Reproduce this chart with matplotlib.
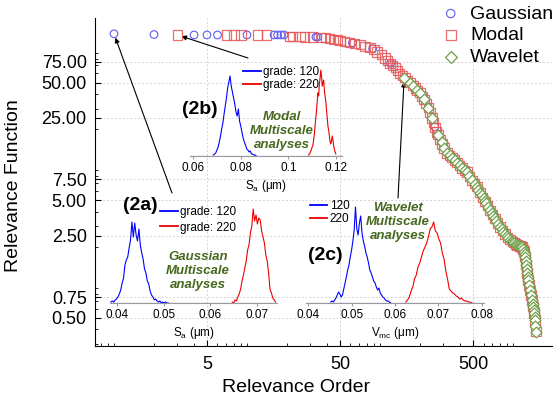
import numpy as np
import matplotlib
matplotlib.use('Agg')
import matplotlib.pyplot as plt
from matplotlib.ticker import LogLocator, NullFormatter, FormatStrFormatter

plt.rcParams['font.family'] = ['Liberation Sans', 'DejaVu Sans']
plt.rcParams['mathtext.fontset'] = 'custom'
plt.rcParams['mathtext.rm'] = 'Liberation Sans'
plt.rcParams['mathtext.it'] = 'Liberation Sans:italic'

# ---- main ranking (relevance order vs relevance function) ----
gauss_order = [1, 2, 4, 5, 6, 10, 16, 17, 18, 19, 33, 34, 62, 88, 120, 160, 210,
               258, 330, 420, 560, 700, 880, 1050, 1200, 1330, 1450]
gauss_value = [130, 128, 127, 127, 127, 127, 127, 127, 127, 127, 122, 122, 109, 97, 73,
               52, 38, 21, 12.2, 9.3, 5.8, 3.8, 2.6, 2.12, 1.88, 0.88, 0.51]

modal_order = [3, 7, 8, 9, 12, 14, 21, 22, 25, 27, 31, 36, 39, 42, 45, 48, 50, 54, 59,
               64, 71, 77, 84, 90, 95, 102, 109, 114, 119, 125, 130, 135, 141, 148, 154,
               161, 168, 177, 184, 190, 200, 207, 214, 222, 230, 238, 246, 252, 259, 266,
               273, 283, 293, 303, 319, 333, 348, 363, 379, 396, 414, 432, 451, 471, 492,
               514, 536, 565, 590, 616, 643, 671, 700, 732, 765, 798, 834, 871, 910, 949,
               985, 1018, 1045, 1072, 1100, 1129, 1150, 1169, 1190, 1211, 1222, 1231, 1242,
               1253, 1264, 1275, 1286, 1297, 1320, 1343, 1366, 1390, 1414, 1439, 1463, 1489]
modal_value = [127, 127, 127, 127, 127, 127, 123, 123, 123, 122, 122, 121, 120, 118, 117,
               116, 114, 112, 110, 108, 105, 102, 99, 95, 91, 86, 81, 77, 73, 70, 67, 63,
               60, 57, 55, 52, 50, 47, 45, 43, 41, 38, 36, 33, 30.5, 28, 25, 23, 20.6, 19,
               18, 16.3, 15, 13.9, 12.6, 12, 11.5, 11, 10.4, 9.9, 9.4, 9.0, 8.7, 8.0, 7.4,
               6.9, 6.5, 5.8, 5.3, 4.9, 4.5, 4.1, 3.8, 3.5, 3.2, 2.96, 2.75, 2.58, 2.42,
               2.30, 2.22, 2.17, 2.12, 2.08, 2.06, 2.04, 2.02, 2.0, 1.9, 1.82, 1.74, 1.65,
               1.53, 1.41, 1.3, 1.20, 1.12, 1.05, 0.95, 0.86, 0.78, 0.71, 0.62, 0.55, 0.48, 0.38]

wavelet_order = [152, 168, 177, 190, 200, 214, 230, 246, 273, 290, 305, 319, 335, 348,
                 365, 380, 398, 414, 432, 451, 470, 492, 514, 536, 550, 565, 580, 600, 616,
                 630, 650, 671, 690, 710, 732, 750, 770, 798, 820, 845, 871, 895, 920, 949,
                 980, 1000, 1018, 1045, 1072, 1100, 1129, 1150, 1169, 1190, 1211, 1222, 1231,
                 1242, 1253, 1264, 1275, 1286, 1297, 1320, 1343, 1366, 1390, 1402, 1414,
                 1427, 1439, 1451, 1463, 1476, 1489]
wavelet_value = [55, 50, 47, 43, 41, 36, 30.5, 25, 18, 15.5, 13.8, 12.6, 12, 11.5, 10.9,
                 10.4, 9.9, 9.4, 9.0, 8.7, 8.0, 7.4, 6.9, 6.5, 6.1, 5.8, 5.5, 5.2, 4.9, 4.7,
                 4.4, 4.1, 3.9, 3.7, 3.5, 3.35, 3.15, 2.96, 2.82, 2.7, 2.58, 2.48, 2.38, 2.30,
                 2.23, 2.2, 2.17, 2.12, 2.08, 2.06, 2.04, 2.02, 2.0, 1.92, 1.82, 1.74, 1.65,
                 1.53, 1.41, 1.3, 1.20, 1.12, 1.05, 0.95, 0.86, 0.78, 0.71, 0.66, 0.62, 0.58,
                 0.55, 0.51, 0.48, 0.43, 0.38]

y_ticks = [0.5, 0.75, 2.5, 5, 7.5, 25, 50, 75]
x_ticks = [5, 50, 500]

# ---- inset histograms (bin start, bin step, counts) ----
# (2a) Gaussian, Sa
a_blue_start, a_blue_step = 0.0387, 0.0003
a_blue = [1, 2, 1, 3, 4, 6, 9, 13, 20, 25, 38, 43, 46, 55, 63, 81, 66, 80, 68, 62, 74, 58,
          50, 44, 34, 30, 22, 19, 12, 8, 6, 3, 4, 2, 1, 2, 0, 1, 0, 1, 0, 0]
a_red_start, a_red_step = 0.0647, 0.0003
a_red = [1, 0, 3, 2, 6, 9, 14, 22, 28, 35, 42, 53, 58, 70, 77, 94, 82, 88, 79, 85, 83, 72,
         66, 60, 48, 42, 30, 14, 10, 5, 3, 1]
# (2b) Modal, Sa
b_blue_start, b_blue_step = 0.0685, 0.0005
b_blue = [1, 2, 3, 6, 9, 14, 20, 27, 33, 42, 50, 58, 68, 74, 80, 70, 64, 58, 52, 44, 40, 47,
          35, 30, 24, 18, 14, 11, 7, 6, 4, 5, 2, 2, 1, 1, 0]
b_red_start, b_red_step = 0.1085, 0.0003
b_red = [1, 2, 3, 5, 7, 9, 11, 16, 22, 30, 38, 45, 55, 63, 60, 72, 78, 86, 80, 70, 73, 76,
         66, 60, 55, 46, 38, 30, 26, 20, 14, 12, 15, 20, 16, 10, 7, 4, 2]
# (2c) Wavelet, Vmc
c_blue_start, c_blue_step = 0.0452, 0.0003
c_blue = [1, 2, 1, 3, 5, 8, 11, 9, 6, 8, 14, 20, 26, 33, 38, 46, 53, 62, 73, 96, 74, 68, 80,
          87, 70, 62, 57, 50, 46, 40, 33, 30, 26, 22, 20, 16, 13, 15, 10, 8, 6, 5, 3, 2, 2, 1, 0]
c_red_start, c_red_step = 0.0625, 0.0004
c_red = [1, 3, 6, 12, 16, 24, 28, 36, 40, 46, 52, 56, 60, 66, 74, 76, 81, 72, 70, 64, 60, 50,
         44, 32, 24, 14, 12, 10, 9, 7, 6, 4, 5, 3, 2, 2, 1, 1, 0]

W, H = 560, 403
fig = plt.figure(figsize=(W / 100, H / 100), dpi=100)


def box(l, t, r, b):
    # pixel box (left, top, right, bottom) -> figure fraction rect
    return [l / W, (H - b) / H, (r - l) / W, (b - t) / H]


ax = fig.add_axes(box(95, 18, 552, 346))
ax.set_xscale('log')
ax.set_yscale('log')
ax.set_xlim(0.72, 1964)
ax.set_ylim(0.288, 177)

g = ax.scatter(gauss_order, gauss_value, s=30, marker='o', facecolors='none',
               edgecolors='#5c5cf2', linewidths=0.8, zorder=3)
m = ax.scatter(modal_order, modal_value, s=44, marker='s', facecolors='none',
               edgecolors='#e85555', alpha=0.85, linewidths=0.9, zorder=4)
w = ax.scatter(wavelet_order, wavelet_value, s=30, marker='D', facecolors='white',
               edgecolors='#72a04c', linewidths=0.9, zorder=5)

ax.set_yticks(y_ticks)
ax.set_yticklabels(['%.2f' % v for v in y_ticks])
ax.yaxis.set_minor_locator(LogLocator(base=10, subs=np.arange(2, 10)))
ax.yaxis.set_minor_formatter(NullFormatter())
ax.set_xticks(x_ticks)
ax.set_xticklabels([str(v) for v in x_ticks])
ax.xaxis.set_minor_locator(LogLocator(base=10, subs=np.arange(1, 10)))
ax.xaxis.set_minor_formatter(NullFormatter())
ax.tick_params(which='major', direction='in', length=4, labelsize=13)
ax.tick_params(axis='x', which='major', pad=7)
ax.tick_params(axis='y', which='major', pad=6)
ax.tick_params(which='minor', direction='in', length=2)
ax.grid(True, which='major', color='#d4d4d4', linestyle=(0, (2, 2)), lw=0.7)
ax.set_axisbelow(True)
for s in ['top', 'right']:
    ax.spines[s].set_visible(False)

ax.set_xlabel('Relevance Order', fontsize=14)
ax.xaxis.set_label_coords(0.44, -0.10)
ax.set_ylabel('Relevance Function', fontsize=14)
ax.yaxis.set_label_coords(-0.16, 0.49)

ax.legend([g, m, w], ['Gaussian', 'Modal', 'Wavelet'], loc='upper left',
          bbox_to_anchor=(441 / W, 1 - 5 / H), bbox_transform=fig.transFigure,
          frameon=False, fontsize=14, handlelength=1.0, handletextpad=0.5,
          labelspacing=0.2, borderpad=0, borderaxespad=0, markerscale=1.1)

arrow = dict(arrowstyle='-|>', color='black', lw=0.8, mutation_scale=7,
             shrinkA=0, shrinkB=3)
ax.annotate('', xy=(gauss_order[0], gauss_value[0]), xytext=(172, H - 193),
            textcoords='figure pixels', arrowprops=arrow)
ax.annotate('', xy=(modal_order[0], modal_value[0]), xytext=(248, H - 58),
            textcoords='figure pixels', arrowprops=arrow)
ax.annotate('', xy=(wavelet_order[0], wavelet_value[0]), xytext=(398, H - 198),
            textcoords='figure pixels', arrowprops=arrow)


def inset(rect, xlim, ticks, blue, red, xlabel, labels, leg_at, leg_space):
    ia = fig.add_axes(rect)
    ia.patch.set_alpha(0)
    for s in ['top', 'right', 'left']:
        ia.spines[s].set_visible(False)
    ia.spines['bottom'].set_color('#9a9a9a')
    ia.spines['bottom'].set_linewidth(0.8)
    start, step, counts = blue
    xb = start + step * np.arange(len(counts))
    lb, = ia.plot(xb, counts, color='#0000ff', lw=0.8)
    start, step, counts = red
    xr = start + step * np.arange(len(counts))
    lr, = ia.plot(xr, counts, color='#ee0000', lw=0.8)
    ia.axhline(0, color='#3030ff', lw=0.8, zorder=1)
    ia.axhline(0, color='#c03030', lw=0.7, zorder=1, alpha=0.8)
    ia.set_xlim(*xlim)
    ia.set_ylim(0, 100)
    ia.set_yticks([])
    ia.set_xticks(ticks)
    ia.xaxis.set_major_formatter(FormatStrFormatter('%g'))
    ia.tick_params(axis='x', direction='out', length=2, color='#9a9a9a',
                   labelsize=8.5, pad=2)
    ia.set_xlabel(xlabel, fontsize=8.5, labelpad=3)
    leg = ia.legend([lb, lr], labels, loc='upper left', bbox_to_anchor=leg_at,
                    frameon=False, fontsize=8.5, handlelength=1.5, handletextpad=0.2,
                    labelspacing=leg_space, borderpad=0, borderaxespad=0)
    for ln in leg.get_lines():
        ln.set_linewidth(1.3)
    return ia


inset(box(110, 203, 277, 303), (0.0385, 0.0743), [0.04, 0.05, 0.06, 0.07],
      (a_blue_start, a_blue_step, a_blue), (a_red_start, a_red_step, a_red),
      'S$_{\\rm a}$ (μm)', ['grade: 120', 'grade: 220'], (0.30, 0.97), 0.3)
inset(box(190, 56, 342, 156), (0.0587, 0.1225), [0.06, 0.08, 0.1, 0.12],
      (b_blue_start, b_blue_step, b_blue), (b_red_start, b_red_step, b_red),
      'S$_{\\rm a}$ (μm)', ['grade: 120', 'grade: 220'], (0.35, 0.90), 0.1)
inset(box(306, 203, 484, 303), (0.0395, 0.0805), [0.04, 0.05, 0.06, 0.07, 0.08],
      (c_blue_start, c_blue_step, c_blue), (c_red_start, c_red_step, c_red),
      'V$_{\\rm mc}$ (μm)', ['120', '220'], (0.02, 1.03), 0.1)

green = '#46691f'
for txt, px, py in [('(2a)', 140, 205), ('(2b)', 200, 110), ('(2c)', 325, 256)]:
    fig.text(px / W, 1 - py / H, txt, ha='center', va='center', fontsize=14,
             fontweight='bold')
for txt, px, py in [('Gaussian\nMultiscale\nanalyses', 198, 271),
                    ('Modal\nMultiscale\nanalyses', 282, 131),
                    ('Wavelet\nMultiscale\nanalyses', 398, 222)]:
    fig.text(px / W, 1 - py / H, txt, ha='center', va='center', fontsize=9.5,
             fontweight='bold', style='italic', color=green, linespacing=1.25)

fig.savefig('out.png', dpi=100)
